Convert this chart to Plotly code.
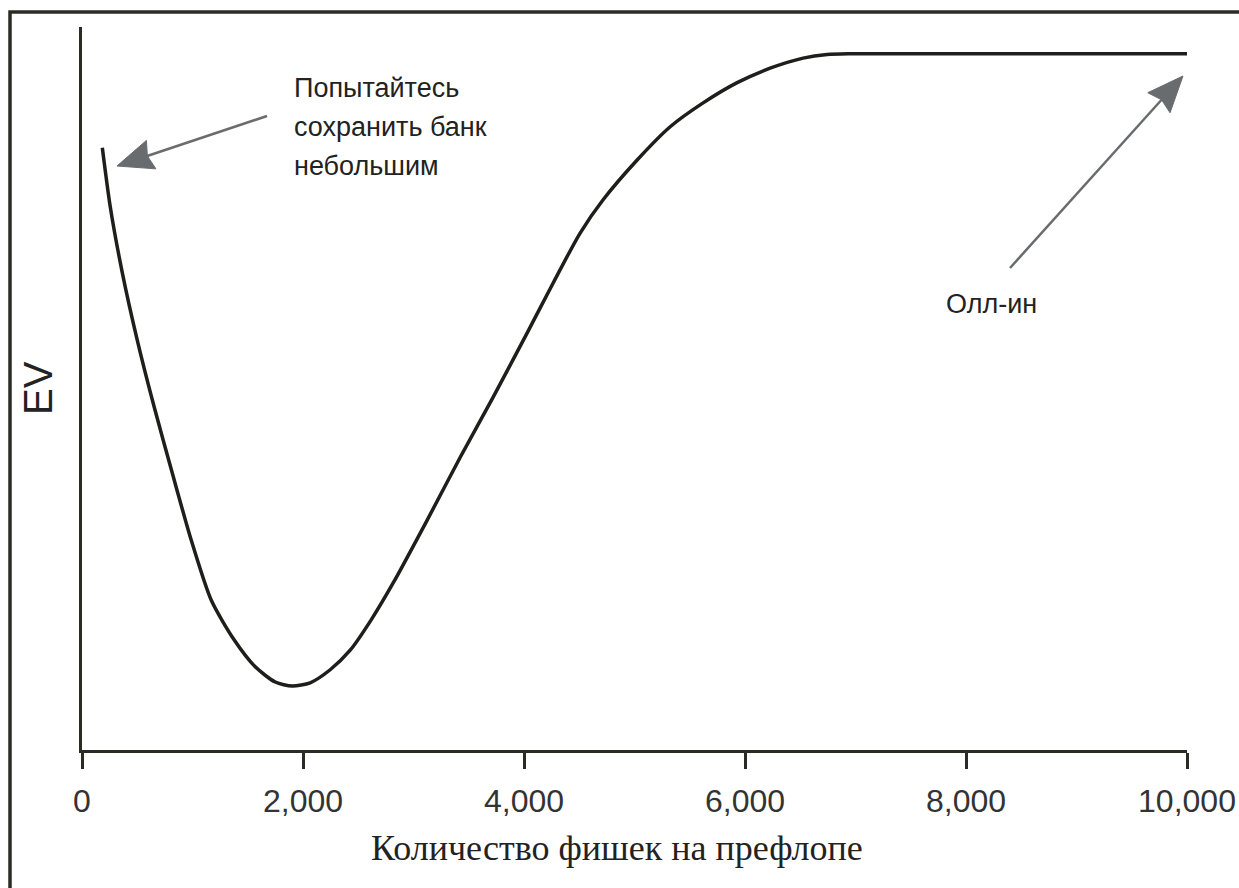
import math
import plotly.graph_objects as go

# ---- data ----
chips = [184, 256, 365, 500, 654, 817, 989, 1170, 1378, 1568, 1749, 1903, 2065, 2246,
         2427, 2617, 2816, 3124, 3423, 3721, 4029, 4264, 4508, 4716, 5024, 5323, 5621,
         5929, 6227, 6526, 6743, 6951, 10000]
ev = [83.3, 75.1, 66.0, 56.7, 47.4, 38.3, 29.0, 20.7, 15.2, 11.5, 9.4, 8.85, 9.3, 11.1,
      13.8, 18.0, 23.1, 31.8, 40.5, 48.8, 57.7, 64.6, 71.5, 76.1, 81.6, 86.2, 89.5,
      92.3, 94.3, 95.7, 96.2, 96.3, 96.3]
x_ticks = [0, 2000, 4000, 6000, 8000, 10000]
x_tick_labels = ["0", "2,000", "4,000", "6,000", "8,000", "10,000"]
note_left_lines = ["Попытайтесь", "сохранить банк", "небольшим"]
note_right = "Олл-ин"
x_title = "Количество фишек на префлопе"
y_title = "EV"

W, H = 1239, 888
ML, MR, MT, MB = 82, 52, 27, 138
PW, PH = W - ML - MR, H - MT - MB


def pp(px, py):
    """screen pixel -> paper coordinates"""
    return (px - ML) / PW, ((H - MB) - py) / PH


AX = "#2b2b26"
GRAY = "#696c6e"
TXT = "#222222"
SANS = "Liberation Sans, Arial, sans-serif"

fig = go.Figure()
fig.add_trace(go.Scatter(x=chips, y=ev, mode="lines",
                         line=dict(color="#1e1e1a", width=3.5, shape="spline", smoothing=0.7),
                         hoverinfo="skip", showlegend=False))

fig.update_layout(
    width=W, height=H,
    margin=dict(l=ML, r=MR, t=MT, b=MB, autoexpand=False),
    paper_bgcolor="white", plot_bgcolor="white",
    xaxis=dict(range=[0, 10000], tickvals=x_ticks, ticktext=x_tick_labels, automargin=False,
               showgrid=False, zeroline=False, showline=True, linecolor=AX, linewidth=3,
               ticks="outside", ticklen=16, tickwidth=3, tickcolor=AX, ticklabelstandoff=5,
               tickfont=dict(family=SANS, size=32, color="#333333")),
    yaxis=dict(range=[0, 100], showgrid=False, zeroline=False, showline=True, automargin=False,
               linecolor=AX, linewidth=3, ticks="", showticklabels=False),
)

annotations = []
x0, y0 = pp(617, 848)
annotations.append(dict(text=x_title, xref="paper", yref="paper",
                        x=x0, y=y0, xanchor="center", yanchor="middle", showarrow=False,
                        font=dict(family="Liberation Serif, Times New Roman, serif", size=36, color=TXT)))
x0, y0 = pp(38, 388)
annotations.append(dict(text=y_title, xref="paper", yref="paper", x=x0, y=y0, textangle=-90,
                        xanchor="center", yanchor="middle", showarrow=False,
                        font=dict(family=SANS, size=40, color=TXT)))
for i, line in enumerate(note_left_lines):
    x0, y0 = pp(292, 88 + 39 * i)
    annotations.append(dict(text=line, xref="paper", yref="paper",
                            x=x0, y=y0, xanchor="left", yanchor="middle", showarrow=False,
                            font=dict(family=SANS, size=27, color=TXT)))
x0, y0 = pp(944, 304)
annotations.append(dict(text=note_right, xref="paper", yref="paper",
                        x=x0, y=y0, xanchor="left", yanchor="middle", showarrow=False,
                        font=dict(family=SANS, size=27, color=TXT)))
fig.update_layout(annotations=annotations)

shapes = []
fx0, fy0 = pp(10, 900)
fx1, fy1 = pp(1250, 12)
shapes.append(dict(type="rect", xref="paper", yref="paper", x0=fx0, y0=fy0, x1=fx1, y1=fy1,
                   line=dict(color=AX, width=3.5), fillcolor="rgba(0,0,0,0)", layer="above"))


def arrow(tail, tip, head_len=36, half_w=15, notch=4):
    dx, dy = tip[0] - tail[0], tip[1] - tail[1]
    n = math.hypot(dx, dy)
    ux, uy = dx / n, dy / n
    vx, vy = -uy, ux
    bx, by = tip[0] - ux * head_len, tip[1] - uy * head_len
    nx_, ny_ = bx + ux * notch, by + uy * notch
    a = pp(*tail)
    b = pp(nx_ + ux, ny_ + uy)
    shapes.append(dict(type="line", xref="paper", yref="paper", x0=a[0], y0=a[1], x1=b[0], y1=b[1],
                       line=dict(color=GRAY, width=2.5)))
    pts = [tip, (bx + vx * half_w, by + vy * half_w), (nx_, ny_), (bx - vx * half_w, by - vy * half_w)]
    pts = [pp(*p) for p in pts]
    path = "M " + " L ".join(f"{p[0]:.5f},{p[1]:.5f}" for p in pts) + " Z"
    shapes.append(dict(type="path", xref="paper", yref="paper", path=path,
                       fillcolor=GRAY, line=dict(color=GRAY, width=1)))


arrow((267, 116), (117, 166))
arrow((1010, 268), (1183, 76))
fig.update_layout(shapes=shapes)

fig.write_html("out.html", config={"displayModeBar": False},
               post_script="document.body.style.margin='0';document.body.style.overflow='hidden';")
